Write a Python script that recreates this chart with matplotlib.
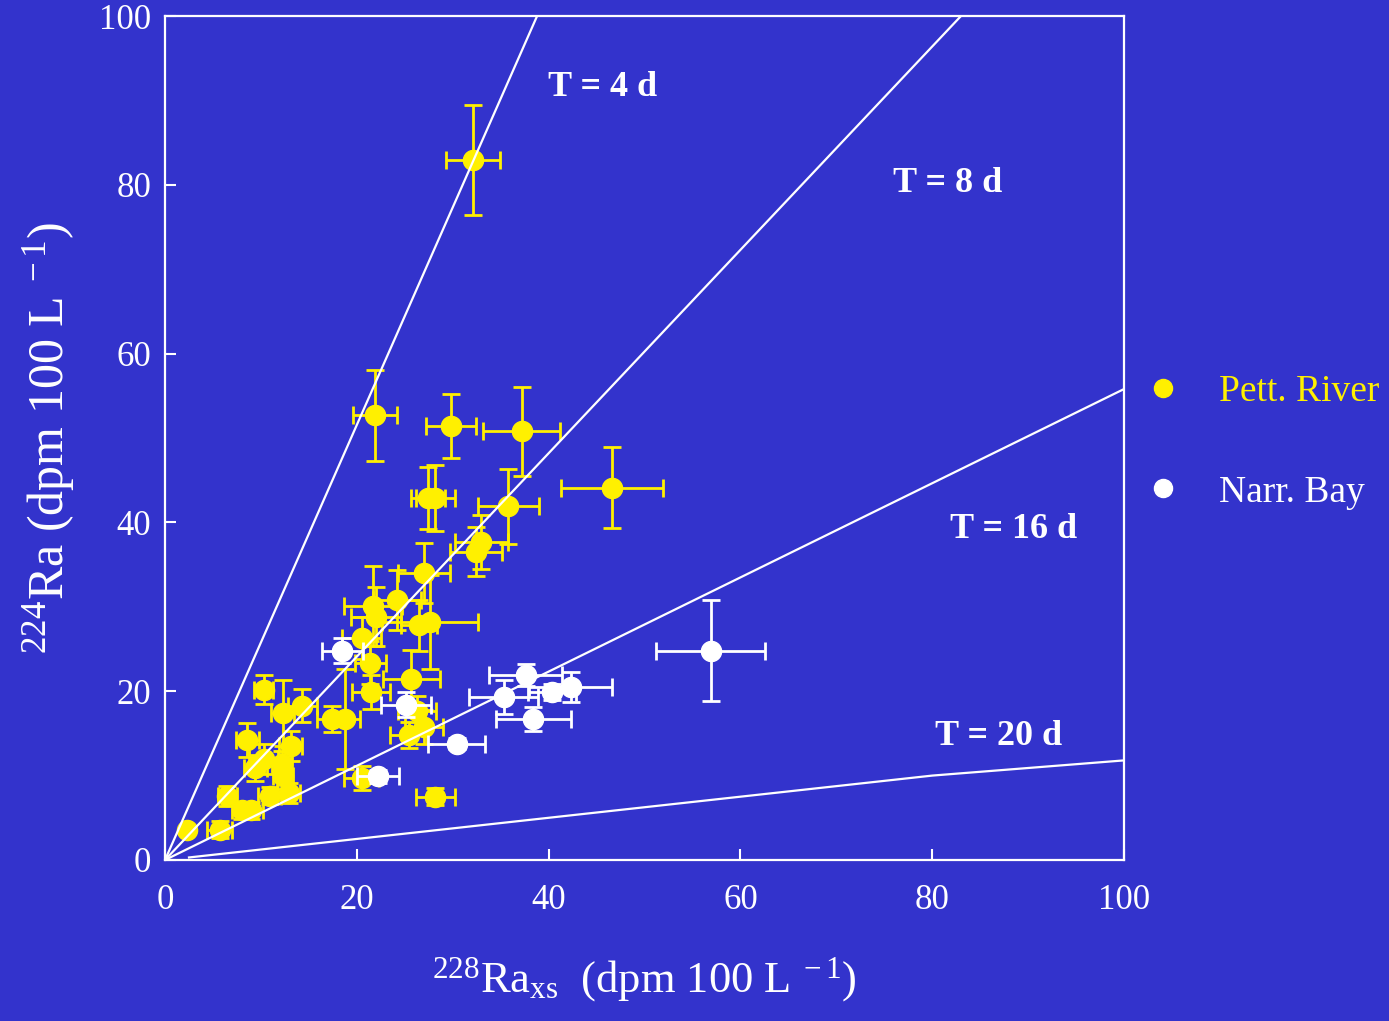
import numpy as np
import matplotlib.pyplot as plt
from matplotlib.lines import Line2D

plt.rcParams['font.family'] = ['Liberation Serif', 'DejaVu Serif']
plt.rcParams['mathtext.fontset'] = 'custom'
plt.rcParams['mathtext.rm'] = 'Liberation Serif'
plt.rcParams['mathtext.it'] = 'Liberation Serif:italic'

bg = '#3333CC'
yellow = '#FFF000'

# Pettaquamscutt River samples: x, y, xerr, yerr
pett_x = [32.1, 21.9, 29.8, 37.2, 46.6, 35.8, 27.4, 28.2, 33.0, 32.4,
          27.0, 21.7, 22.0, 24.2, 20.5, 26.5, 27.6, 21.4, 21.5, 25.7,
          26.3, 27.0, 25.4, 17.4, 18.8, 20.5, 28.2, 10.3, 12.3, 14.3,
          8.6, 13.1, 10.3, 9.4, 12.3, 12.2, 6.5, 8.0, 9.0, 10.9,
          12.9, 2.3, 5.7]
pett_y = [82.9, 52.7, 51.4, 50.8, 44.1, 41.9, 42.9, 42.9, 37.7, 36.5,
          34.0, 30.1, 28.8, 30.8, 26.3, 27.8, 28.2, 23.4, 19.9, 21.5,
          17.6, 15.8, 14.8, 16.7, 16.7, 9.7, 7.5, 20.2, 17.4, 18.3,
          14.2, 13.5, 12.0, 10.9, 9.9, 11.4, 7.6, 5.9, 5.9, 7.6,
          7.9, 3.6, 3.6]
pett_xerr = [2.8, 2.3, 2.6, 4.0, 5.3, 3.2, 1.8, 2.0, 2.8, 2.7,
             2.7, 3.0, 2.6, 2.5, 2.0, 1.9, 5.0, 1.6, 2.0, 3.0,
             2.0, 2.0, 1.9, 1.5, 1.5, 1.8, 2.0, 1.0, 1.2, 1.5,
             1.2, 1.2, 1.5, 1.2, 1.0, 1.0, 1.0, 1.0, 1.2, 1.2,
             1.2, 0.3, 1.3]
pett_yerr = [6.5, 5.4, 3.8, 5.3, 4.8, 4.4, 3.7, 3.9, 3.2, 2.9,
             3.6, 4.7, 3.5, 3.6, 2.5, 3.0, 5.6, 2.5, 2.0, 3.4,
             1.8, 2.0, 1.5, 1.5, 5.9, 1.4, 1.0, 1.7, 3.9, 2.0,
             2.0, 1.8, 1.8, 1.5, 1.5, 1.5, 1.2, 1.0, 1.0, 1.0,
             1.2, 0.3, 1.0]

# Narragansett Bay samples
narr_x = [18.5, 25.1, 22.2, 30.4, 37.6, 35.3, 40.4, 42.3, 38.4, 56.9]
narr_y = [24.8, 18.4, 9.9, 13.8, 21.9, 19.3, 19.9, 20.5, 16.7, 24.8]
narr_xerr = [2.1, 2.6, 2.2, 3.0, 3.8, 3.6, 2.5, 4.3, 3.9, 5.7]
narr_yerr = [1.5, 1.5, 0.8, 0.6, 1.3, 2.0, 1.0, 1.8, 1.4, 6.0]

# model age lines
t4_x, t4_y = [0, 38.8], [0, 100]
t8_x, t8_y = [0, 83.0], [0, 100]
t16_x, t16_y = [0, 100], [0, 55.8]
t20_x, t20_y = [2.5, 40, 80, 100], [0.3, 5.0, 10.0, 11.8]

line_labels = ['T = 4 d', 'T = 8 d', 'T = 16 d', 'T = 20 d']
label_pos = [(39.9, 91.5), (75.9, 80.1), (81.9, 39.2), (80.3, 14.6)]

fig = plt.figure(figsize=(13.89, 10.21), dpi=100, facecolor=bg)
ax = fig.add_axes([0.1188, 0.1577, 0.6904, 0.8266], facecolor=bg)

ax.errorbar(pett_x, pett_y, xerr=pett_xerr, yerr=pett_yerr, fmt='o',
            color=yellow, ms=14.5, elinewidth=2, capsize=6.5, capthick=2, zorder=3)
ax.errorbar(narr_x, narr_y, xerr=narr_xerr, yerr=narr_yerr, fmt='o',
            color='white', ms=14.5, elinewidth=2, capsize=6.5, capthick=2, zorder=4)

for lx, ly in [(t4_x, t4_y), (t8_x, t8_y), (t16_x, t16_y), (t20_x, t20_y)]:
    ax.plot(lx, ly, color='white', lw=1.6, zorder=5)

for txt, (px, py) in zip(line_labels, label_pos):
    ax.text(px, py, txt, color='white', fontsize=26, fontweight='bold',
            va='center', ha='left')

ax.set_xlim(0, 100)
ax.set_ylim(0, 100)
ax.set_xticks([0, 20, 40, 60, 80, 100])
ax.set_yticks([0, 20, 40, 60, 80, 100])
ax.tick_params(direction='in', length=8, width=1.5, colors='white',
               labelsize=25, top=False, right=False)
ax.tick_params(axis='x', pad=17)
ax.tick_params(axis='y', pad=10)
for sp in ax.spines.values():
    sp.set_color('white')
    sp.set_linewidth(1.6)

ax.set_xlabel(r'$^{228}$Ra$_{\mathrm{xs}}$  (dpm 100 L$^{\ -1}$)',
              color='white', fontsize=32, labelpad=28)
ax.set_ylabel(r'$^{224}$Ra (dpm 100 L$^{\ -1}$)',
              color='white', fontsize=36, labelpad=16)

handles = [Line2D([], [], ls='', marker='o', color=yellow, ms=13),
           Line2D([], [], ls='', marker='o', color='white', ms=13)]
leg = ax.legend(handles, ['Pett. River', 'Narr. Bay'], loc='center left',
                bbox_to_anchor=(1.027, 0.495), frameon=False, fontsize=27,
                labelspacing=1.75, handlelength=0.7, handletextpad=1.15,
                borderpad=0, borderaxespad=0)
for t, c in zip(leg.get_texts(), [yellow, 'white']):
    t.set_color(c)

plt.savefig('out.png', dpi=100, facecolor=bg)
